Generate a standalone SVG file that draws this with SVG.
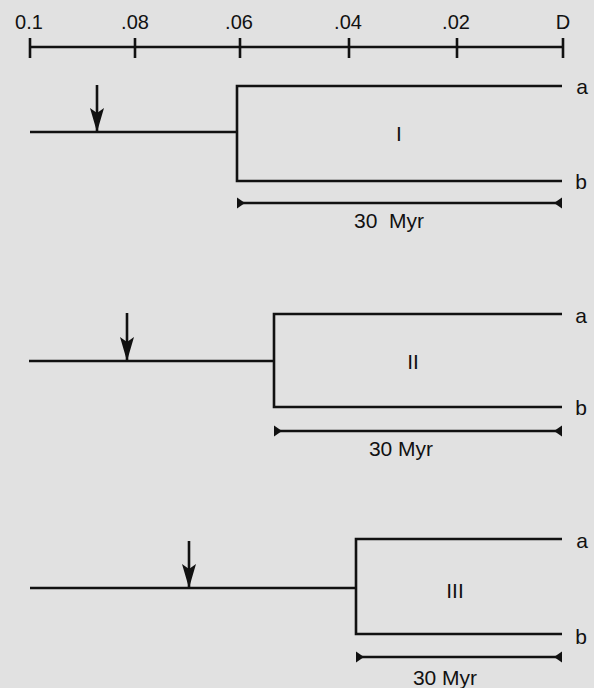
<svg xmlns="http://www.w3.org/2000/svg" width="594" height="688" viewBox="0 0 594 688">
  <style>
    .ln { stroke: #111; stroke-width: 2.6; fill: none; stroke-linecap: butt; }
    .tx { font-family: "Liberation Sans", Arial, Helvetica, sans-serif; fill: #111; text-anchor: middle; }
    .ax { font-size: 20px; }
    .lb { font-size: 21px; }
  </style>
  <defs>
    <!-- notched head for the downward pointers -->
    <marker id="down" markerUnits="userSpaceOnUse" markerWidth="25" markerHeight="15" refX="24" refY="7" orient="auto" overflow="visible">
      <path d="M24,7 L0,0 L5,7 L0,14 Z" fill="#111"/>
    </marker>
    <!-- inward-pointing triangle at the ends of the time bars -->
    <marker id="bar" markerUnits="userSpaceOnUse" markerWidth="9" markerHeight="12" refX="8" refY="5.5" orient="auto-start-reverse" overflow="visible">
      <path d="M8,0 L8,11 L0,5.5 Z" fill="#111"/>
    </marker>
  </defs>

  <rect width="594" height="688" fill="#e1e1e1"/>

  <!-- distance scale -->
  <g id="axis">
    <line class="ln" x1="30" y1="47" x2="563" y2="47"/>
    <path class="ln" d="M30,38 V58 M135,38 V58 M240,38 V58 M349,38 V58 M457,38 V58 M563,38 V58"/>
    <text class="tx ax" x="29" y="29">0.1</text>
    <text class="tx ax" x="135" y="29">.08</text>
    <text class="tx ax" x="239" y="29">.06</text>
    <text class="tx ax" x="348" y="29">.04</text>
    <text class="tx ax" x="456" y="29">.02</text>
    <text class="tx ax" x="563" y="29">D</text>
  </g>

  <!-- tree I -->
  <g id="tree-I">
    <path class="ln" d="M30,132 H237 M562,86 H237 V181 H562"/>
    <line class="ln" x1="97" y1="85" x2="97" y2="132" marker-end="url(#down)"/>
    <line class="ln" x1="237" y1="203" x2="562" y2="203" marker-start="url(#bar)" marker-end="url(#bar)"/>
    <text class="tx lb" x="582" y="94">a</text>
    <text class="tx lb" x="581" y="189">b</text>
    <text class="tx lb" x="399" y="141">I</text>
    <text class="tx lb" x="389" y="228" xml:space="preserve">30  Myr</text>
  </g>

  <!-- tree II -->
  <g id="tree-II">
    <path class="ln" d="M29,361 H274 M562,314 H274 V407 H562"/>
    <line class="ln" x1="127" y1="313" x2="127" y2="361" marker-end="url(#down)"/>
    <line class="ln" x1="274" y1="431" x2="562" y2="431" marker-start="url(#bar)" marker-end="url(#bar)"/>
    <text class="tx lb" x="581" y="323">a</text>
    <text class="tx lb" x="581" y="415">b</text>
    <text class="tx lb" x="413" y="369">II</text>
    <text class="tx lb" x="401" y="456">30 Myr</text>
  </g>

  <!-- tree III -->
  <g id="tree-III">
    <path class="ln" d="M30,588 H356 M562,539 H356 V634 H562"/>
    <line class="ln" x1="189" y1="541" x2="189" y2="588" marker-end="url(#down)"/>
    <line class="ln" x1="356" y1="657" x2="562" y2="657" marker-start="url(#bar)" marker-end="url(#bar)"/>
    <text class="tx lb" x="582" y="548">a</text>
    <text class="tx lb" x="581" y="644">b</text>
    <text class="tx lb" x="455" y="598">III</text>
    <text class="tx lb" x="445" y="685">30 Myr</text>
  </g>
</svg>
